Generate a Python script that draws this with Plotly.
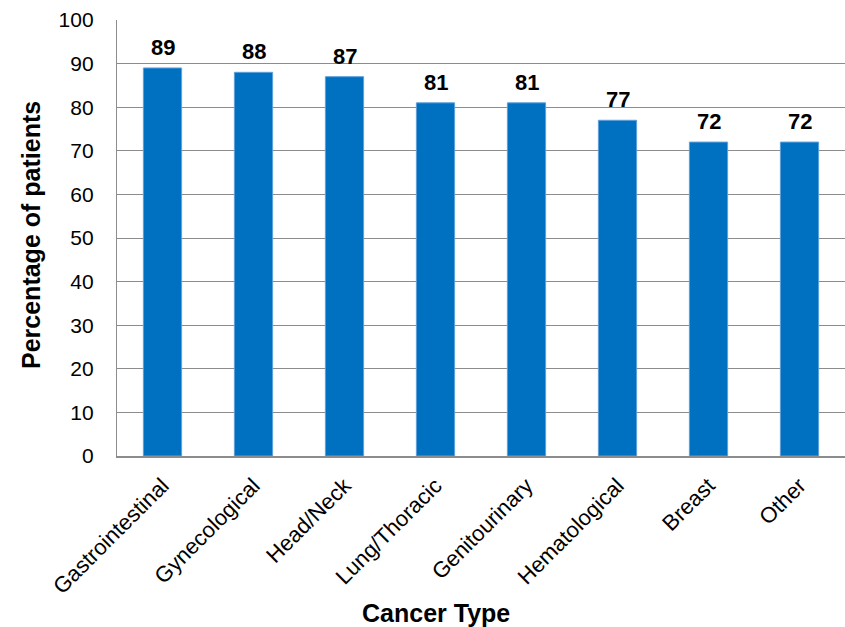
import plotly.graph_objects as go

categories = ["Gastrointestinal", "Gynecological", "Head/Neck", "Lung/Thoracic",
              "Genitourinary", "Hematological", "Breast", "Other"]
percentages = [89, 88, 87, 81, 81, 77, 72, 72]
y_ticks = [0, 10, 20, 30, 40, 50, 60, 70, 80, 90, 100]

FONT = "Liberation Sans, Arial, sans-serif"
BAR_COLOR = "#0070C0"
GRID_COLOR = "#8c8c8c"

fig = go.Figure()
fig.add_trace(go.Bar(
    x=categories,
    y=percentages,
    width=0.42,
    marker=dict(color=BAR_COLOR, line=dict(color="#5fa0da", width=1)),
    hoverinfo="x+y",
))

# Value labels above each bar
for cat, val in zip(categories, percentages):
    fig.add_annotation(
        x=cat, y=val, text=f"<b>{val}</b>", showarrow=False,
        yanchor="bottom", yshift=6,
        font=dict(family=FONT, size=22, color="black"),
    )

# Axis titles
fig.add_annotation(
    xref="paper", yref="paper", x=(436 - 117) / (845 - 117), y=-(613 - 456) / 436,
    text="<b>Cancer Type</b>", showarrow=False, xanchor="center", yanchor="middle",
    font=dict(family=FONT, size=25, color="black"),
)
fig.add_annotation(
    xref="paper", yref="paper", x=-(117 - 31) / (845 - 117), y=(456 - 235) / 436,
    text="<b>Percentage of patients</b>", showarrow=False, textangle=-90,
    xanchor="center", yanchor="middle",
    font=dict(family=FONT, size=25, color="black"),
)

fig.update_layout(
    width=845, height=627,
    margin=dict(l=117, r=0, t=20, b=171),
    paper_bgcolor="white", plot_bgcolor="white",
    showlegend=False,
    bargap=0.58,
    font=dict(family=FONT, color="black"),
)
fig.update_xaxes(
    type="category",
    tickangle=-45,
    tickfont=dict(family=FONT, size=22, color="black"),
    showline=True, linecolor=GRID_COLOR, linewidth=2,
    showgrid=False, ticks="", ticklabelstandoff=6,
)
fig.update_yaxes(
    range=[0, 100],
    tickvals=y_ticks,
    tickfont=dict(family=FONT, size=21, color="black"),
    showgrid=True, gridcolor=GRID_COLOR, gridwidth=1.3,
    showline=True, linecolor=GRID_COLOR, linewidth=1.3,
    zeroline=False, ticks="", ticklabelstandoff=18,
)

fig.write_html("out.html")
